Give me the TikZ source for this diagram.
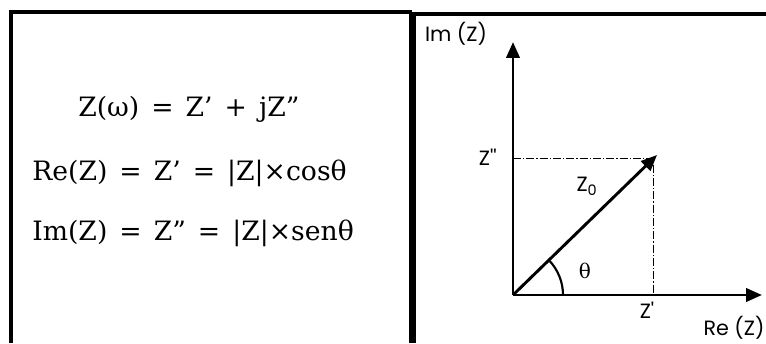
\documentclass[tikz,border=0pt]{standalone}
\usepackage{fontspec}
\setmainfont{DejaVu Serif}
\newfontfamily\gothic{Poppins}
\usetikzlibrary{arrows.meta}
\newcommand\eqfont{\fontsize{20}{24}\selectfont\spaceskip 9pt\relax}

\tikzset{
  frameline/.style={line width=3pt},
  axisline/.style={line width=2.2pt, -{Triangle[length=12pt, width=10pt]}},
  projline/.style={line width=0.7pt, dash pattern=on 6pt off 1.5pt on 1pt off 1.5pt},
  eqtext/.style={anchor=base west, inner sep=0pt, font=\eqfont},
  axlabel/.style={font=\gothic\fontsize{15.5}{18}\selectfont, inner sep=0pt}
}

\begin{document}
\begin{tikzpicture}[x=0.75pt, y=0.75pt]
\useasboundingbox (0,0) rectangle (766,343);

% === Table frame ===
\draw[frameline] (10.5,0) -- (10.5,331) -- (412,331);
\draw[line width=5pt] (412.5,0) -- (412.5,331);
\draw[frameline] (410,329) -- (766,329);

% === Equations ===
\node[eqtext] (eqZ) at (78,226) {Z(ω) = Z’ + jZ”};
\node[eqtext] (eqRe) at (32,163) {Re(Z) = Z’ = |Z|×cosθ};
\node[eqtext] (eqIm) at (32,103) {Im(Z) = Z” = |Z|×senθ};

% === Complex plane ===
\coordinate (O) at (513,48);
\coordinate (imtip) at (513,301);
\coordinate (retip) at (762,48);
\coordinate (P) at (657,188);
\coordinate (C) at (653,185);
\coordinate (Cy) at (513,185);
\coordinate (Cx) at (653,48);

\draw[projline] (Cy) -- (C) -- (Cx);
\draw[axisline] (O) -- (imtip);
\draw[axisline] (O) -- (retip);
\draw[axisline] (O) -- (P);
\draw[line width=1.6pt] (O) ++(50,0) arc[start angle=0, end angle=44, radius=37.5pt];

\node[axlabel] (imlab) at (456,309) {Im (Z)};
\node[axlabel] (relab) at (734,15) {Re (Z)};
\node[axlabel, anchor=east] (zpp) at (497,186) {Z''};
\node[axlabel] (zp) at (647,33) {Z'};
\node[axlabel] (z0) at (587,157) {Z\textsubscript{0}};
\node[font=\fontsize{15}{18}\selectfont, inner sep=0pt] (theta) at (585,72) {θ};
\end{tikzpicture}
\end{document}
